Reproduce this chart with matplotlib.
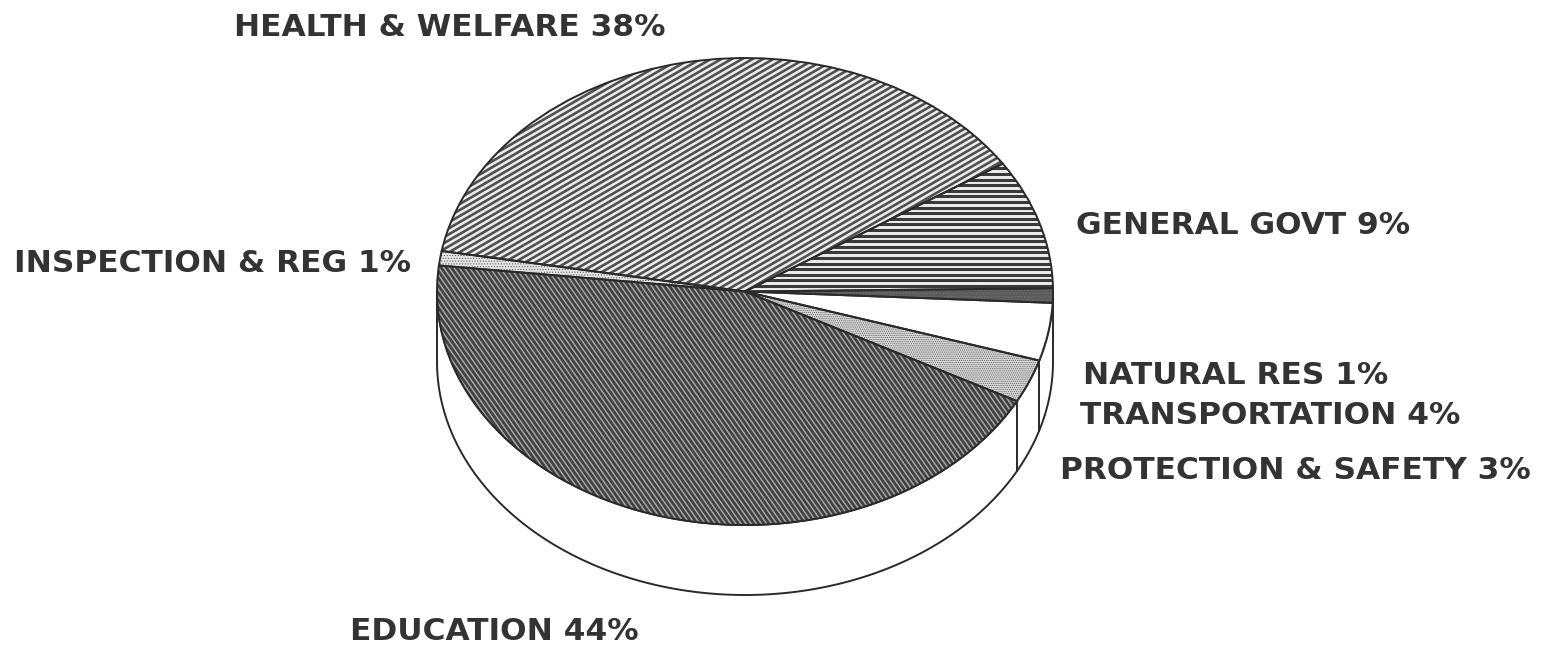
import matplotlib
matplotlib.use("Agg")
import matplotlib.pyplot as plt
import numpy as np
from matplotlib.collections import LineCollection
from matplotlib.patches import PathPatch
from matplotlib.transforms import IdentityTransform

W, H = 1566, 645
CX, CY, RX, RY = 745, 291.5, 308, 233.5
DEPTH = 70 / RY

labels = ["HEALTH & WELFARE", "GENERAL GOVT", "NATURAL RES", "TRANSPORTATION",
          "PROTECTION & SAFETY", "EDUCATION", "INSPECTION & REG"]
shares = [38, 9, 1, 4, 3, 44, 1]
START = 170

# (x, y) of each label's left edge and baseline in image pixels
label_pos = [(234, 36), (1076, 234), (1083, 384), (1080, 424), (1060, 479), (350, 640), (14, 272)]

# angle, spacing, linewidth, colour of the line shading per slice (None = no lines)
shading = [(30, 5.2, 1.9, "#505050"), (0, 5.6, 2.2, "#3a3a3a"), None, None, None,
           (-55, 4.2, 1.9, "#404040"), None]
faces = ["#ececec", "#ececec", "#5a5a5a", "white", "#d4d4d4", "#a4a4a4", "#e4e4e4"]
stipple = {2: "ooooo", 4: "........", 6: "......"}

plt.rcParams['font.family'] = ['DejaVu Sans']
plt.rcParams['hatch.linewidth'] = 0.5
INK = "#2a2a2a"

fig = plt.figure(figsize=(W / 100, H / 100), dpi=100)
ax = fig.add_axes([(CX - RX) / W, 1 - (CY + RY) / H, 2 * RX / W, 2 * RY / H])

# side wall first, the top face sits over it
t = np.radians(np.linspace(0, -180, 200))
wall_x = np.r_[np.cos(t), np.cos(t[::-1])]
wall_y = np.r_[np.sin(t), np.sin(t[::-1]) - DEPTH]
ax.fill(wall_x, wall_y, facecolor="white", edgecolor=INK, lw=1.4, clip_on=False, zorder=1)

wedges, _ = ax.pie(shares, startangle=START, counterclock=False, radius=1,
                   colors=faces, wedgeprops=dict(edgecolor="#666666", lw=0, clip_on=False, zorder=2))
ax.set_xlim(-1, 1)
ax.set_ylim(-1, 1)
ax.set_aspect("auto")

# shading lines, in display pixels, cut to their slice
for wedge, sh in zip(wedges, shading):
    if sh is None:
        continue
    ang, gap, lw, col = sh
    a = np.radians(ang)
    d = np.array([np.cos(a), np.sin(a)])
    n = np.array([-d[1], d[0]])
    mid = np.array([CX, H - CY])
    segs = [[mid + n * k * gap - d * 900, mid + n * k * gap + d * 900] for k in range(-180, 181)]
    lc = LineCollection(segs, colors=col, linewidths=lw, transform=IdentityTransform(), zorder=3)
    ax.add_collection(lc, autolim=False)
    lc.set_clip_path(wedge)

for i, dots in stipple.items():
    wedges[i].set_hatch(dots)

# outline again on top of the shading
for wedge in wedges:
    ax.add_patch(PathPatch(wedge.get_path(), fill=False, edgecolor=INK, lw=1.4,
                           transform=wedge.get_transform(), clip_on=False, zorder=4))

# wall seams under the slice boundaries that face the viewer
edges = START - np.cumsum(shares) * 3.6
for e in edges[2:5]:
    r = np.radians(e)
    if np.sin(r) < 0 and e < -10:
        ax.plot([np.cos(r)] * 2, [np.sin(r), np.sin(r) - DEPTH], color=INK, lw=1.4,
                clip_on=False, zorder=1.5)

for name, share, (x, y) in zip(labels, shares, label_pos):
    fig.text(x / W, 1 - y / H, f"{name} {share}%", fontsize=22.5, fontweight="bold",
             color="#333333", ha="left", va="baseline")

fig.savefig("out.png", dpi=100, facecolor="white")
